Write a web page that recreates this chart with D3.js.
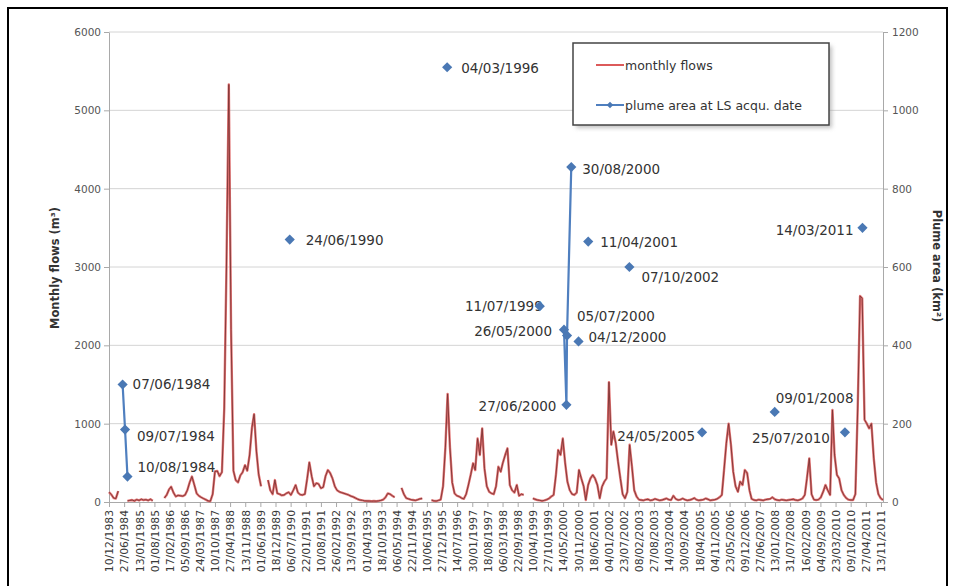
<!DOCTYPE html>
<html>
<head>
<meta charset="utf-8">
<script src="https://cdn.jsdelivr.net/npm/d3@7"></script>
<style>
  body { margin: 0; background: #fff; }
  svg { display: block; }
  text { font-family: "DejaVu Sans", sans-serif; }
</style>
</head>
<body>
<svg id="chart" width="956" height="586"></svg>
<script>
// Monthly flows, one value per month starting December 1983 (null = missing month)
const flowStart = [1983, 11];
const flows1983 = [125];
const flows1984 = [95, 50, 45, 140, null, null, null, 15, 20, 25, 15, 30];
const flows1985 = [20, 35, 25, 30, 20, 35, 15, null, null, null, null, 50];
const flows1986 = [90, 160, 195, 120, 70, 85, 80, 75, 90, 150, 250, 325];
const flows1987 = [220, 110, 80, 60, 45, 30, 15, 10, 100, 390, 395, 330];
const flows1988 = [380, 1200, 3000, 5330, 2200, 400, 280, 250, 340, 380, 470, 400];
const flows1989 = [600, 950, 1120, 650, 350, 200, null, null, 280, 150, 100, 280];
const flows1990 = [110, 100, 85, 90, 110, 125, 90, 150, 217, 120, 95, 90];
const flows1991 = [100, 300, 506, 330, 200, 240, 230, 175, 190, 330, 408, 370];
const flows1992 = [300, 200, 150, 130, 120, 110, 100, 90, 75, 65, 50, 35];
const flows1993 = [25, 20, 15, 13, 12, 10, 12, 10, 15, 20, 30, 60];
const flows1994 = [110, 100, 80, 60, null, null, 180, 100, 50, 40, 30, 25];
const flows1995 = [20, 30, 40, 45, null, null, null, 25, 15, 12, 20, 30];
const flows1996 = [200, 700, 1380, 700, 250, 110, 80, 70, 50, 40, 100, 217];
const flows1997 = [350, 494, 408, 810, 600, 940, 430, 200, 130, 110, 100, 200];
const flows1998 = [450, 387, 500, 600, 685, 217, 150, 120, 217, 80, 100, 90];
const flows1999 = [null, null, null, 45, 35, 25, 20, 15, 20, 30, 45, 70];
const flows2000 = [90, 350, 664, 600, 810, 500, 260, 150, 100, 90, 120, 408];
const flows2001 = [300, 200, 25, 217, 300, 345, 300, 217, 47, 196, 260, 302];
const flows2002 = [1530, 730, 900, 750, 515, 300, 100, 47, 130, 730, 450, 150];
const flows2003 = [70, 30, 25, 20, 30, 35, 20, 25, 40, 30, 20, 25];
const flows2004 = [35, 45, 30, 25, 80, 40, 25, 30, 45, 30, 20, 25];
const flows2005 = [35, 50, 30, 20, 25, 30, 45, 35, 20, 25, 30, 40];
const flows2006 = [60, 90, 400, 750, 1000, 730, 387, 200, 130, 260, 217, 408];
const flows2007 = [370, 150, 40, 25, 20, 30, 25, 20, 30, 35, 40, 60];
const flows2008 = [35, 25, 20, 30, 25, 20, 25, 30, 35, 25, 20, 30];
const flows2009 = [45, 90, 300, 557, 100, 30, 25, 30, 60, 130, 217, 150];
const flows2010 = [90, 1175, 600, 345, 300, 150, 90, 50, 30, 25, 25, 100];
const flows2011 = [1200, 2630, 2600, 1050, 1000, 940, 1000, 557, 250, 100, 47, 25];

// Plume area (km²) at each Landsat acquisition date
const plumeDates = ["07/06/1984", "09/07/1984", "10/08/1984", "24/06/1990", "04/03/1996",
  "11/07/1999", "26/05/2000", "27/06/2000", "05/07/2000", "30/08/2000", "04/12/2000",
  "11/04/2001", "07/10/2002", "24/05/2005", "09/01/2008", "25/07/2010", "14/03/2011"];
const plumeAreas = [300, 185, 65, 670, 1110, 500, 440, 248, 425, 855, 410, 665, 600, 178, 230, 178, 700];

// Axis ticks
const flowTicks = [0, 1000, 2000, 3000, 4000, 5000, 6000];
const areaTicks = [0, 200, 400, 600, 800, 1000, 1200];
const dateTickLabels = ["10/12/1983", "27/06/1984", "13/01/1985", "01/08/1985", "17/02/1986",
  "05/09/1986", "24/03/1987", "10/10/1987", "27/04/1988", "13/11/1988", "01/06/1989",
  "18/12/1989", "06/07/1990", "22/01/1991", "10/08/1991", "26/02/1992", "13/09/1992",
  "01/04/1993", "18/10/1993", "06/05/1994", "22/11/1994", "10/06/1995", "27/12/1995",
  "14/07/1996", "30/01/1997", "18/08/1997", "06/03/1998", "22/09/1998", "10/04/1999",
  "27/10/1999", "14/05/2000", "30/11/2000", "18/06/2001", "04/01/2002", "23/07/2002",
  "08/02/2003", "27/08/2003", "14/03/2004", "30/09/2004", "18/04/2005", "04/11/2005",
  "23/05/2006", "09/12/2006", "27/06/2007", "13/01/2008", "31/07/2008", "16/02/2009",
  "04/09/2009", "23/03/2010", "09/10/2010", "27/04/2011", "13/11/2011"];

// Where each date label sits relative to its marker: [anchor, dx, dy]
const labelPlacement = {
  "07/06/1984": ["start", 10, 0],  "09/07/1984": ["start", 12, 7],  "10/08/1984": ["start", 10, -9],
  "24/06/1990": ["start", 16, 1],  "04/03/1996": ["start", 14, 1],  "11/07/1999": ["end", 3, 0],
  "26/05/2000": ["end", -12, 1],   "27/06/2000": ["end", -10, 1],   "05/07/2000": ["start", 10, -19],
  "30/08/2000": ["start", 11, 2],  "04/12/2000": ["start", 10, -4], "11/04/2001": ["start", 12, 1],
  "07/10/2002": ["start", 12, 10], "24/05/2005": ["end", -7, 4],    "09/01/2008": ["start", 1, -14],
  "25/07/2010": ["end", -15, 6],   "14/03/2011": ["end", -9, 2]
};

const parseDMY = d3.timeParse("%d/%m/%Y");
const flowValues = [].concat(flows1983, flows1984, flows1985, flows1986, flows1987, flows1988,
  flows1989, flows1990, flows1991, flows1992, flows1993, flows1994, flows1995, flows1996,
  flows1997, flows1998, flows1999, flows2000, flows2001, flows2002, flows2003, flows2004,
  flows2005, flows2006, flows2007, flows2008, flows2009, flows2010, flows2011);
const flowData = flowValues.map((v, i) => ({ date: new Date(flowStart[0], flowStart[1] + i, 10), v }));
const plumeData = plumeDates.map((s, i) => ({ label: s, date: parseDMY(s), v: plumeAreas[i] }));
const tickDates = dateTickLabels.map(parseDMY);

const svg = d3.select("#chart");
const plot = { left: 109, right: 883, top: 32, bottom: 502 };

const x = d3.scaleTime()
  .domain([flowData[0].date, flowData[flowData.length - 1].date])
  .range([plot.left, plot.right]);
const yFlow = d3.scaleLinear().domain([0, 6000]).range([plot.bottom, plot.top]);
const yArea = d3.scaleLinear().domain([0, 1200]).range([plot.bottom, plot.top]);

// Outer frame
svg.append("rect").attr("x", 8).attr("y", 8).attr("width", 939).attr("height", 600)
  .attr("fill", "#fff").attr("stroke", "#000").attr("stroke-width", 2);

// Horizontal gridlines
svg.append("g").selectAll("line").data(flowTicks.slice(1)).join("line")
  .attr("x1", plot.left).attr("x2", plot.right)
  .attr("y1", d => yFlow(d)).attr("y2", d => yFlow(d))
  .attr("stroke", "#d4d4d4").attr("stroke-width", 1);

const axisColor = "#a9a9a9";
function styleAxis(g) {
  g.selectAll(".domain").attr("stroke", axisColor);
  g.selectAll(".tick line").attr("stroke", axisColor);
  g.selectAll(".tick text").attr("fill", "#555").style("font-family", "DejaVu Sans, sans-serif");
}
const plain = d3.format("d");

// Left axis (flows)
svg.append("g").attr("transform", `translate(${plot.left},0)`)
  .call(d3.axisLeft(yFlow).tickValues(flowTicks).tickFormat(plain)
    .tickSize(5).tickSizeOuter(0).tickPadding(3))
  .call(styleAxis)
  .call(g => g.selectAll(".tick text").attr("font-size", 10.5));

// Right axis (plume area)
svg.append("g").attr("transform", `translate(${plot.right},0)`)
  .call(d3.axisRight(yArea).tickValues(areaTicks).tickFormat(plain)
    .tickSize(5).tickSizeOuter(0).tickPadding(4))
  .call(styleAxis)
  .call(g => g.selectAll(".tick text").attr("font-size", 10.5));

// Bottom date axis
svg.append("g").attr("transform", `translate(0,${plot.bottom})`)
  .call(d3.axisBottom(x).tickValues(tickDates).tickSize(5).tickSizeOuter(0)
    .tickFormat((d, i) => dateTickLabels[i]))
  .call(styleAxis)
  .call(g => g.selectAll(".tick text")
    .attr("font-size", 10.8).attr("fill", "#3a3a3a")
    .attr("text-anchor", "end")
    .attr("transform", "rotate(-90)")
    .attr("x", -8).attr("y", 0).attr("dy", "0.35em"));

// Monthly flow line
const flowLine = d3.line().defined(d => d.v != null)
  .x(d => x(d.date)).y(d => yFlow(d.v));
svg.append("path").datum(flowData).attr("d", flowLine)
  .attr("fill", "none").attr("stroke", "#dc5a5a").attr("stroke-width", 2.4)
  .attr("stroke-linejoin", "round").attr("opacity", 0.85);
svg.append("path").datum(flowData).attr("d", flowLine)
  .attr("fill", "none").attr("stroke", "#7e3434").attr("stroke-width", 0.9)
  .attr("stroke-linejoin", "round");

// Plume series: points in consecutive months are joined
const runs = [];
plumeData.forEach((p, i) => {
  const prev = plumeData[i - 1];
  const gap = prev ? d3.timeMonth.count(d3.timeMonth.floor(prev.date), d3.timeMonth.floor(p.date)) : 99;
  if (gap <= 1) runs[runs.length - 1].push(p); else runs.push([p]);
});
const plumeLine = d3.line().x(d => x(d.date)).y(d => yArea(d.v));
svg.append("g").selectAll("path").data(runs.filter(r => r.length > 1)).join("path")
  .attr("d", plumeLine).attr("fill", "none")
  .attr("stroke", "#4f7fbf").attr("stroke-width", 2.2);

// Date labels
const labelSize = 13.5;
svg.append("g").selectAll("text").data(plumeData).join("text")
  .attr("x", d => x(d.date) + labelPlacement[d.label][1])
  .attr("y", d => yArea(d.v) + labelPlacement[d.label][2])
  .attr("dy", "0.36em")
  .attr("text-anchor", d => labelPlacement[d.label][0])
  .attr("font-size", labelSize).attr("fill", "#333")
  .text(d => d.label);

// Diamond markers
const diamond = d3.symbol(d3.symbolSquare, 52);
svg.append("g").selectAll("path").data(plumeData).join("path")
  .attr("d", diamond)
  .attr("transform", d => `translate(${x(d.date)},${yArea(d.v)}) rotate(45)`)
  .attr("fill", "#4a78b4");

// Axis titles
svg.append("text").attr("transform", "translate(59,268) rotate(-90)")
  .attr("text-anchor", "middle").attr("font-size", 11.5).attr("font-weight", "bold")
  .attr("fill", "#333").text("Monthly flows (m³)");
svg.append("text").attr("transform", "translate(933,266) rotate(90)")
  .attr("text-anchor", "middle").attr("font-size", 11.5).attr("font-weight", "bold")
  .attr("fill", "#333").text("Plume area (km²)");

// Legend
const defs = svg.append("defs");
defs.append("filter").attr("id", "shadow").attr("x", "-10%").attr("y", "-10%")
  .attr("width", "130%").attr("height", "140%")
  .append("feGaussianBlur").attr("stdDeviation", 2);
const legend = svg.append("g");
legend.append("rect").attr("x", 576).attr("y", 46).attr("width", 256).attr("height", 82)
  .attr("fill", "#999").attr("opacity", 0.6).attr("filter", "url(#shadow)");
legend.append("rect").attr("x", 573).attr("y", 43).attr("width", 256).attr("height", 82)
  .attr("fill", "#fff").attr("stroke", "#444").attr("stroke-width", 1.5);
legend.append("line").attr("x1", 596).attr("x2", 624).attr("y1", 65).attr("y2", 65)
  .attr("stroke", "#dc5a5a").attr("stroke-width", 2);
legend.append("line").attr("x1", 596).attr("x2", 624).attr("y1", 105).attr("y2", 105)
  .attr("stroke", "#4f7fbf").attr("stroke-width", 2);
legend.append("path").attr("d", d3.symbol(d3.symbolSquare, 22))
  .attr("transform", "translate(610,105) rotate(45)").attr("fill", "#4a78b4");
legend.append("text").attr("x", 625).attr("y", 65).attr("dy", "0.36em")
  .attr("font-size", 12.5).attr("fill", "#333").text("monthly flows");
legend.append("text").attr("x", 625).attr("y", 105).attr("dy", "0.36em")
  .attr("font-size", 12.5).attr("fill", "#333").text("plume area at LS acqu. date");
</script>
</body>
</html>
